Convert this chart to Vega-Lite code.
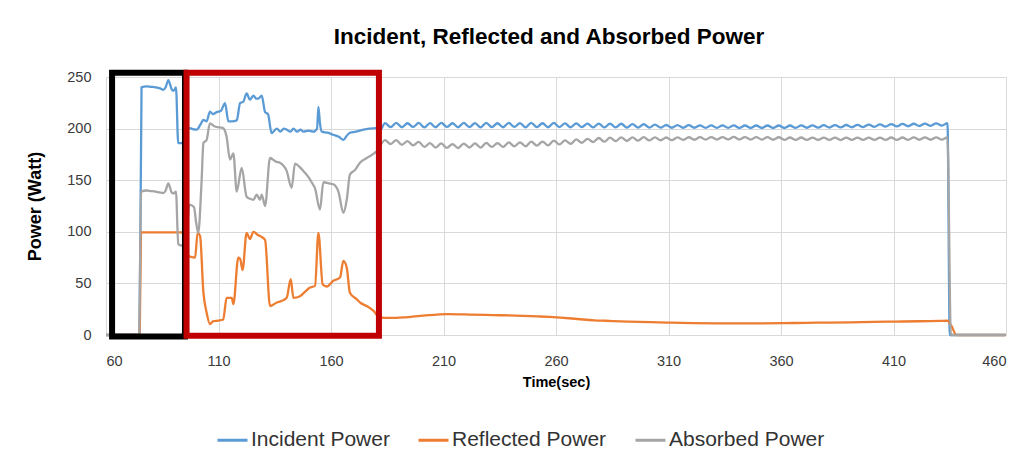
{
  "$schema": "https://vega.github.io/schema/vega-lite/v6.json",
  "width": 900,
  "height": 258,
  "autosize": "none",
  "padding": {"left": 106, "top": 77, "right": 29, "bottom": 130},
  "background": "#ffffff",
  "title": {"text": "Incident, Reflected and Absorbed Power", "font": "Liberation Sans", "fontSize": 22.5, "fontWeight": "bold", "color": "#000000", "anchor": "middle", "dx": -7, "offset": 21},
  "datasets": {
    "inc": [
      {"t":60,"v":0},{"t":74.9,"v":0},{"t":75.8,"v":240},{"t":78,"v":241},{"t":80,"v":240.5},{"t":82,"v":240},{"t":84,"v":239},{"t":85.5,"v":237.5},{"t":86.5,"v":240},{"t":87.7,"v":247},{"t":89.2,"v":238},{"t":90,"v":236.5},{"t":91.1,"v":240},{"t":92.1,"v":186},{"t":94.1,"v":186},{"t":95.5,"v":199},{"t":97.3,"v":200.5},{"t":98.5,"v":199.5},{"t":100.3,"v":199},{"t":102,"v":204},{"t":103.3,"v":208.5},{"t":104.7,"v":207},{"t":106.2,"v":216.5},{"t":107.5,"v":214},{"t":109.2,"v":216},{"t":111,"v":217},{"t":112.9,"v":224.6},{"t":114.4,"v":207},{"t":116,"v":207},{"t":118.1,"v":208},{"t":119.6,"v":224.6},{"t":121,"v":226},{"t":122.5,"v":234},{"t":124,"v":228},{"t":125.5,"v":232},{"t":126.8,"v":229},{"t":127.7,"v":229},{"t":129.2,"v":232},{"t":130.7,"v":216},{"t":132,"v":214},{"t":133.6,"v":195.6},{"t":135.9,"v":200},{"t":137.5,"v":197},{"t":139,"v":200},{"t":140.3,"v":199},{"t":142,"v":197},{"t":143.3,"v":200},{"t":145,"v":197},{"t":146.5,"v":199},{"t":147.7,"v":197},{"t":150,"v":198},{"t":152.1,"v":197},{"t":153.8,"v":200},{"t":154.4,"v":221},{"t":155.1,"v":205},{"t":155.9,"v":197},{"t":158.5,"v":196},{"t":161,"v":194},{"t":163.5,"v":192},{"t":165.5,"v":189},{"t":167,"v":193},{"t":168.4,"v":196},{"t":171,"v":197},{"t":174.4,"v":199},{"t":177,"v":200},{"t":180.3,"v":200.5},{"t":182,"v":199},
      {"t":184,"v":205.3},{"t":186.5,"v":201.5},{"t":189,"v":205.6},{"t":191.5,"v":201.3},{"t":194,"v":205.2},{"t":196.5,"v":201.6},{"t":199,"v":205.5},{"t":201.5,"v":201.2},{"t":204,"v":205.3},{"t":206.5,"v":201.3},{"t":209,"v":205.6},{"t":211.5,"v":201.6},{"t":214,"v":205.2},{"t":216.5,"v":201.3},{"t":219,"v":205.5},{"t":221.5,"v":201.5},{"t":224,"v":205.3},{"t":226.5,"v":201.2},{"t":229,"v":205.6},{"t":231.5,"v":201.5},{"t":234,"v":205.2},{"t":236.5,"v":201.3},{"t":239,"v":205.5},{"t":241.5,"v":201.6},{"t":244,"v":205.3},{"t":246.5,"v":201.2},{"t":249,"v":205.6},{"t":251.5,"v":201.5},{"t":254,"v":205.2},{"t":256.5,"v":201.3},{"t":259,"v":205.5},{"t":261.5,"v":201.5},{"t":264,"v":205},{"t":266.5,"v":201.3},{"t":269,"v":205.1},{"t":271.5,"v":201.4},{"t":274,"v":204.8},{"t":276.5,"v":201.2},{"t":279,"v":204.9},{"t":281.5,"v":201.1},{"t":284,"v":204.8},{"t":286.5,"v":201.2},{"t":289,"v":204.7},{"t":291.5,"v":201},{"t":294,"v":204.4},{"t":296.5,"v":201},{"t":299,"v":204.2},{"t":301.5,"v":200.9},{"t":304,"v":203.8},{"t":306.5,"v":200.9},{"t":309,"v":203.5},{"t":311.5,"v":200.8},{"t":314,"v":203.4},{"t":316.5,"v":200.8},{"t":319,"v":203.3},{"t":321.5,"v":200.8},{"t":324,"v":203.2},{"t":326.5,"v":200.7},{"t":329,"v":203.2},{"t":331.5,"v":200.7},{"t":334,"v":203.1},{"t":336.5,"v":200.7},{"t":339,"v":203.1},{"t":341.5,"v":200.6},{"t":344,"v":203},{"t":346.5,"v":200.6},{"t":349,"v":203},{"t":351.5,"v":200.6},{"t":354,"v":203},{"t":356.5,"v":200.6},{"t":359,"v":203},{"t":361.5,"v":200.6},{"t":364,"v":203},{"t":366.5,"v":200.7},{"t":369,"v":203.1},{"t":371.5,"v":200.8},{"t":374,"v":203.2},{"t":376.5,"v":200.9},{"t":379,"v":203.3},{"t":381.5,"v":201},{"t":384,"v":203.4},{"t":386.5,"v":201.1},{"t":389,"v":203.5},{"t":391.5,"v":201.3},{"t":394,"v":203.7},{"t":396.5,"v":201.5},{"t":399,"v":203.9},{"t":401.5,"v":201.7},{"t":404,"v":204.1},{"t":406.5,"v":201.9},{"t":409,"v":204.3},{"t":411.5,"v":202.1},{"t":414,"v":204.5},{"t":416.5,"v":202.3},{"t":419,"v":204.7},{"t":421.5,"v":202.5},{"t":424,"v":204.9},{"t":426.5,"v":202.7},{"t":429,"v":205.1},{"t":431.5,"v":202.9},{"t":434,"v":205.3},{"t":435,"v":0},{"t":459.8,"v":0}
    ],
    "ref": [
      {"t":60,"v":0},{"t":74.9,"v":0},{"t":75.6,"v":99.5},{"t":85,"v":99.5},{"t":94.1,"v":99.5},{"t":95,"v":99},{"t":96.6,"v":76.5},{"t":99.6,"v":75},{"t":100.7,"v":99},{"t":101.8,"v":96},{"t":103.3,"v":41},{"t":104.7,"v":22},{"t":106.2,"v":10.6},{"t":107.7,"v":13.5},{"t":110,"v":14},{"t":112.1,"v":15},{"t":113.6,"v":36},{"t":115.9,"v":36},{"t":116.6,"v":30},{"t":118.8,"v":75},{"t":119.6,"v":74},{"t":120.7,"v":63},{"t":122.5,"v":99},{"t":124,"v":93},{"t":125.5,"v":100},{"t":127.5,"v":97},{"t":129.2,"v":95},{"t":130.7,"v":92},{"t":132.9,"v":28},{"t":135.9,"v":31.5},{"t":138,"v":33},{"t":140.3,"v":36},{"t":142.1,"v":54},{"t":143.3,"v":36},{"t":146.2,"v":37.6},{"t":148.5,"v":42},{"t":150.7,"v":46},{"t":152.9,"v":47.6},{"t":154.4,"v":99},{"t":156.3,"v":49},{"t":158.1,"v":47},{"t":161,"v":52.5},{"t":164,"v":55.7},{"t":165.5,"v":71.8},{"t":167,"v":65.3},{"t":168.4,"v":41},{"t":171.4,"v":34.7},{"t":173.2,"v":31},{"t":175.9,"v":28},{"t":178.8,"v":23.5},{"t":181.8,"v":17},{"t":184,"v":16.5},{"t":187,"v":16.5},{"t":192,"v":17},{"t":197,"v":18},{"t":202,"v":19},{"t":207,"v":19.8},{"t":212,"v":20.2},{"t":222,"v":19.8},{"t":232,"v":19.3},{"t":242,"v":18.8},{"t":252,"v":18},{"t":257,"v":17.5},{"t":262,"v":16.8},{"t":267,"v":16},{"t":272,"v":15},{"t":277,"v":14.2},{"t":282,"v":13.8},{"t":292,"v":13},{"t":302,"v":12.4},{"t":311,"v":12},{"t":321,"v":11.6},{"t":331,"v":11.3},{"t":341,"v":11.2},{"t":351,"v":11.3},{"t":361,"v":11.5},{"t":371,"v":11.8},{"t":381,"v":12},{"t":391,"v":12.3},{"t":401,"v":12.7},{"t":411,"v":13},{"t":421,"v":13.3},{"t":431,"v":13.7},{"t":434,"v":13.8},{"t":435.7,"v":9},{"t":438,"v":0},{"t":459.8,"v":0}
    ],
    "abs": [
      {"t":60,"v":0},{"t":74.7,"v":0},{"t":75.6,"v":139},{"t":78,"v":140},{"t":80,"v":139.5},{"t":82,"v":139},{"t":84,"v":138},{"t":85.5,"v":137.5},{"t":86.5,"v":140},{"t":87.7,"v":147},{"t":89.2,"v":138},{"t":90,"v":137},{"t":91.1,"v":139},{"t":92.1,"v":88},{"t":94.1,"v":86.5},{"t":95.5,"v":87},{"t":97,"v":126.4},{"t":99.1,"v":124},{"t":100,"v":110},{"t":101,"v":99},{"t":102.5,"v":150},{"t":103.3,"v":186},{"t":104.7,"v":189},{"t":106.2,"v":205},{"t":108.4,"v":202},{"t":112.1,"v":200.5},{"t":113.6,"v":192},{"t":115.1,"v":170},{"t":116.6,"v":176},{"t":118.1,"v":139},{"t":120.3,"v":162},{"t":122.5,"v":134},{"t":124,"v":132},{"t":125.5,"v":131},{"t":127,"v":136},{"t":128.4,"v":131},{"t":129.2,"v":136},{"t":130.7,"v":125},{"t":132.9,"v":171.5},{"t":135.5,"v":168},{"t":137.3,"v":167},{"t":140.3,"v":159},{"t":142.5,"v":142.6},{"t":144,"v":166},{"t":146,"v":163},{"t":147.7,"v":159},{"t":150,"v":153},{"t":151.4,"v":148},{"t":152.9,"v":142},{"t":155.1,"v":121.6},{"t":156.6,"v":148},{"t":159,"v":147},{"t":161,"v":146},{"t":163.3,"v":139},{"t":165.5,"v":118.4},{"t":167,"v":131},{"t":168.4,"v":155.4},{"t":170.7,"v":160},{"t":172.9,"v":167},{"t":175.9,"v":171.5},{"t":178.5,"v":175},{"t":180.3,"v":178},
      {"t":184,"v":188.8},{"t":186.5,"v":185},{"t":189,"v":188.9},{"t":191.5,"v":184.3},{"t":194,"v":187.8},{"t":196.5,"v":183.7},{"t":199,"v":187.1},{"t":201.5,"v":182.3},{"t":204,"v":186},{"t":206.5,"v":181.6},{"t":209,"v":185.6},{"t":211.5,"v":181.4},{"t":214,"v":185},{"t":216.5,"v":181.2},{"t":219,"v":185.5},{"t":221.5,"v":181.7},{"t":224,"v":185.6},{"t":226.5,"v":181.6},{"t":229,"v":186.2},{"t":231.5,"v":182.2},{"t":234,"v":186},{"t":236.5,"v":182.3},{"t":239,"v":186.6},{"t":241.5,"v":182.8},{"t":244,"v":186.7},{"t":246.5,"v":182.8},{"t":249,"v":187.4},{"t":251.5,"v":183.5},{"t":254,"v":187.4},{"t":256.5,"v":183.8},{"t":259,"v":188.3},{"t":261.5,"v":184.7},{"t":264,"v":188.5},{"t":266.5,"v":185.2},{"t":269,"v":189.5},{"t":271.5,"v":186.3},{"t":274,"v":190.1},{"t":276.5,"v":186.9},{"t":279,"v":190.9},{"t":281.5,"v":187.3},{"t":284,"v":191.2},{"t":286.5,"v":187.8},{"t":289,"v":191.5},{"t":291.5,"v":188},{"t":294,"v":191.5},{"t":296.5,"v":188.3},{"t":299,"v":191.7},{"t":301.5,"v":188.5},{"t":304,"v":191.5},{"t":306.5,"v":188.7},{"t":309,"v":191.4},{"t":311.5,"v":188.8},{"t":314,"v":191.5},{"t":316.5,"v":189},{"t":319,"v":191.6},{"t":321.5,"v":189.2},{"t":324,"v":191.7},{"t":326.5,"v":189.3},{"t":329,"v":191.8},{"t":331.5,"v":189.4},{"t":334,"v":191.8},{"t":336.5,"v":189.5},{"t":339,"v":191.9},{"t":341.5,"v":189.4},{"t":344,"v":191.8},{"t":346.5,"v":189.4},{"t":349,"v":191.7},{"t":351.5,"v":189.3},{"t":354,"v":191.7},{"t":356.5,"v":189.2},{"t":359,"v":191.6},{"t":361.5,"v":189.1},{"t":364,"v":191.4},{"t":366.5,"v":189.1},{"t":369,"v":191.4},{"t":371.5,"v":189},{"t":374,"v":191.3},{"t":376.5,"v":189},{"t":379,"v":191.3},{"t":381.5,"v":189},{"t":384,"v":191.3},{"t":386.5,"v":188.9},{"t":389,"v":191.3},{"t":391.5,"v":189},{"t":394,"v":191.3},{"t":396.5,"v":189},{"t":399,"v":191.3},{"t":401.5,"v":189},{"t":404,"v":191.3},{"t":406.5,"v":189},{"t":409,"v":191.4},{"t":411.5,"v":189.1},{"t":414,"v":191.4},{"t":416.5,"v":189.1},{"t":419,"v":191.5},{"t":421.5,"v":189.2},{"t":424,"v":191.5},{"t":426.5,"v":189.2},{"t":429,"v":191.5},{"t":431.5,"v":189.3},{"t":434,"v":191.5},{"t":435.5,"v":0},{"t":459.8,"v":0}
    ],
    "blackbox": [{"t1":62.7,"t2":95.1,"v1":-1.5,"v2":254}],
    "redbox": [{"t1":95.8,"t2":181.3,"v1":-0.8,"v2":254}]
  },
  "config": {
    "view": {"stroke": null},
    "axis": {"gridColor": "#D9D9D9", "gridWidth": 1, "ticks": false, "tickSize": 0, "labelFont": "Liberation Sans", "labelFontSize": 14.5, "labelColor": "#3a3a3a", "titleColor": "#000000"}
  },
  "encoding": {
    "x": {"field": "t", "type": "quantitative", "title": "Time(sec)", "scale": {"domain": [60, 460], "nice": false, "zero": false},
      "axis": {"values": [60, 110, 160, 210, 260, 310, 360, 410, 460], "domain": true, "domainColor": "#D9D9D9", "labelPadding": 19, "titleFont": "Liberation Sans", "titleFontSize": 14.5, "titleFontWeight": "bold", "titlePadding": 8}},
    "y": {"field": "v", "type": "quantitative", "title": "Power (Watt)", "scale": {"domain": [0, 250], "nice": false},
      "axis": {"values": [0, 50, 100, 150, 200, 250], "domain": false, "labelPadding": 15, "titleFont": "Liberation Sans", "titleFontSize": 18, "titleFontWeight": "bold", "titlePadding": 22}}
  },
  "layer": [
    {"data": {"name": "inc"}, "mark": {"type": "line", "strokeWidth": 2.3, "interpolate": "monotone"}, "encoding": {"color": {"datum": "Incident Power", "type": "nominal",
      "scale": {"domain": ["Incident Power", "Reflected Power", "Absorbed Power"], "range": ["#5B9BD5", "#ED7D31", "#A5A5A5"]},
      "legend": {"orient": "none", "legendX": 110, "legendY": 346.5, "direction": "horizontal", "title": null, "symbolType": "stroke", "symbolStrokeWidth": 3, "symbolSize": 900, "labelFont": "Liberation Sans", "labelFontSize": 21, "labelColor": "#333333", "labelOffset": 2, "columnPadding": 22, "labelLimit": 400}}}},
    {"data": {"name": "ref"}, "mark": {"type": "line", "strokeWidth": 2.3, "interpolate": "monotone"}, "encoding": {"color": {"datum": "Reflected Power", "type": "nominal"}}},
    {"data": {"name": "abs"}, "mark": {"type": "line", "strokeWidth": 2.3, "interpolate": "monotone"}, "encoding": {"color": {"datum": "Absorbed Power", "type": "nominal"}}},
    {"data": {"name": "blackbox"}, "mark": {"type": "rect", "filled": false, "fillOpacity": 0, "stroke": "#000000", "strokeWidth": 6, "strokeJoin": "miter"},
      "encoding": {"x": {"field": "t1", "type": "quantitative", "title": "Time(sec)"}, "x2": {"field": "t2"}, "y": {"field": "v1", "type": "quantitative", "title": "Power (Watt)"}, "y2": {"field": "v2"}}},
    {"data": {"name": "redbox"}, "mark": {"type": "rect", "filled": false, "fillOpacity": 0, "stroke": "#C00000", "strokeWidth": 6, "strokeJoin": "miter"},
      "encoding": {"x": {"field": "t1", "type": "quantitative", "title": "Time(sec)"}, "x2": {"field": "t2"}, "y": {"field": "v1", "type": "quantitative", "title": "Power (Watt)"}, "y2": {"field": "v2"}}}
  ]
}
